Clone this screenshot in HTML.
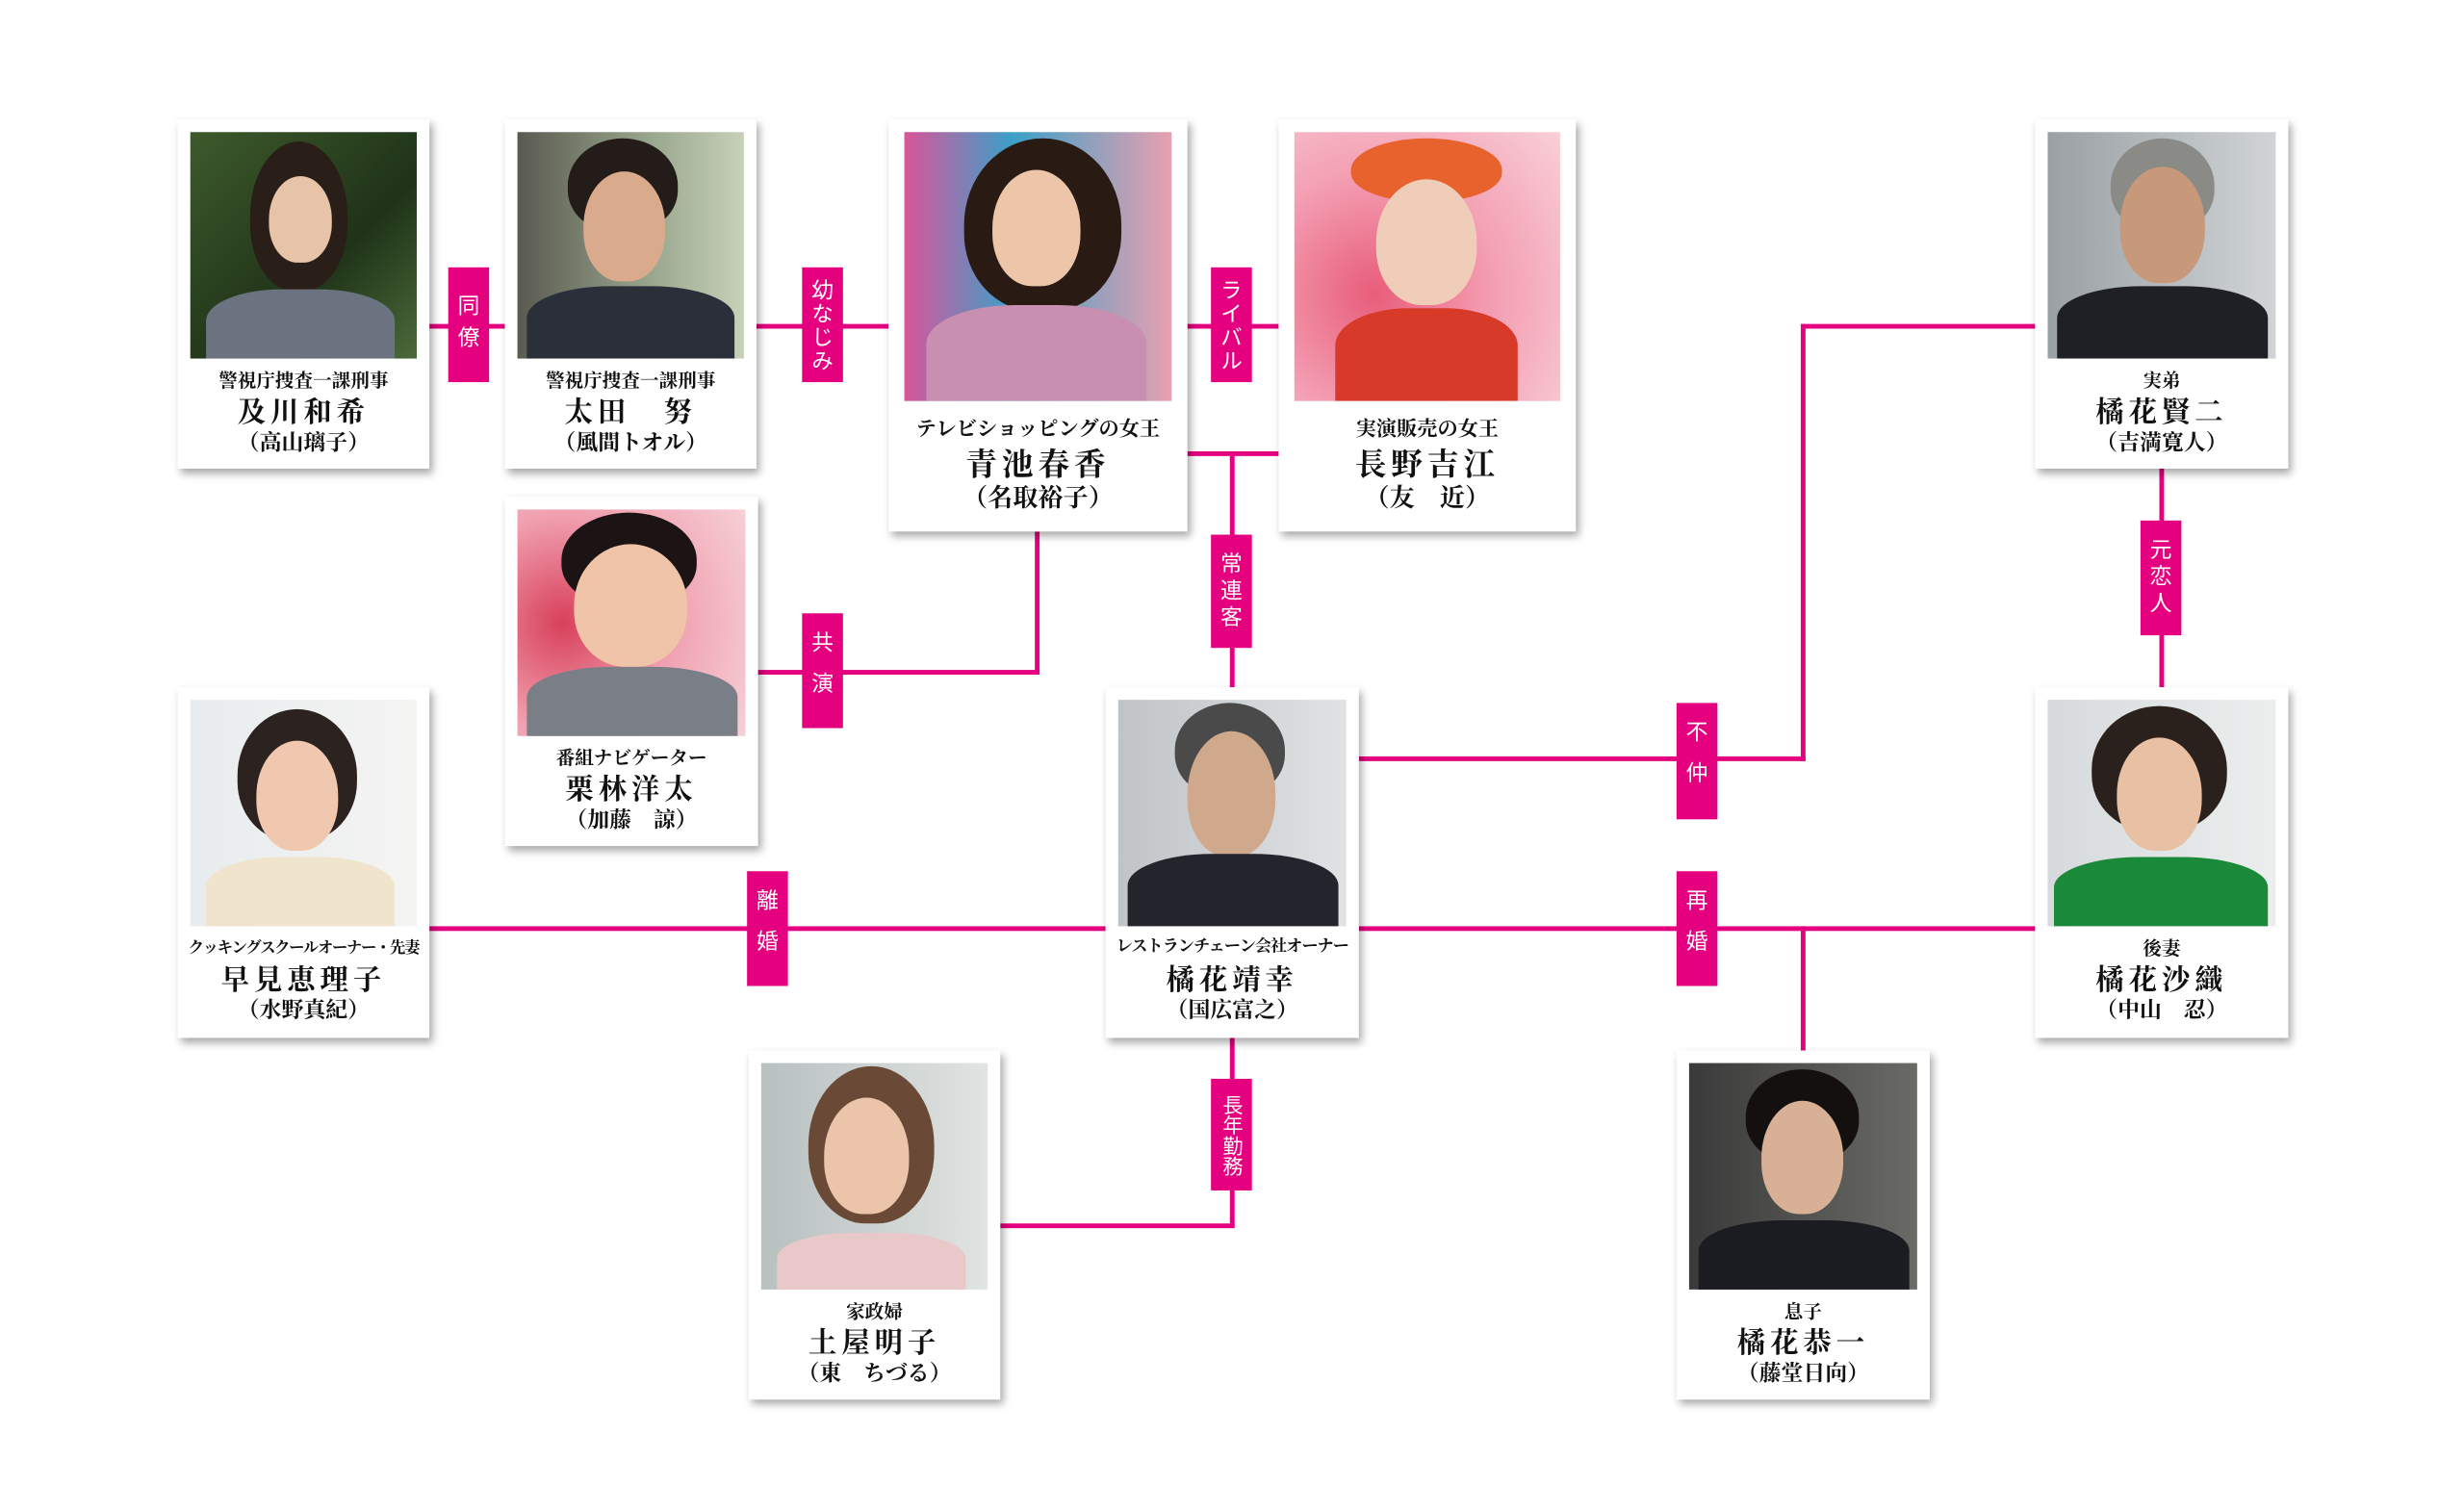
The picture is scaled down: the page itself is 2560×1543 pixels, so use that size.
<!DOCTYPE html>
<html><head><meta charset="utf-8"><style>
html,body{margin:0;padding:0;background:#fff;}
body{width:2560px;height:1543px;overflow:hidden;position:relative;}
#w{position:absolute;left:0;top:0;width:1560px;height:940px;transform:scale(1.634);transform-origin:0 0;}
.c{position:absolute;background:#fff;box-shadow:2px 3px 5px rgba(0,0,0,.35);font-family:"Liberation Serif","Noto Serif CJK SC",serif;text-align:center;color:#111;}
.p{position:absolute;left:8px;top:8px;right:8px;height:144px;overflow:hidden;}
.t{position:absolute;left:0;right:0;font-weight:bold;white-space:nowrap;}
.r{font-size:12px;top:157px;}
.n{font-size:18px;top:172px;letter-spacing:3px;}
.a{font-size:14px;top:195px;}
.big .p{left:10px;right:10px;height:171px;}
.big .r{top:186px;font-size:13px;}
.big .n{top:203px;font-size:20px;}
.big .a{top:228px;font-size:16px;}
.h{position:absolute;background:#e4007f;height:3px;}
.v{position:absolute;background:#e4007f;width:3px;}
.l{position:absolute;background:#e4007f;color:#fff;width:26px;font-family:"Liberation Sans","Noto Sans CJK JP",sans-serif;font-size:14px;writing-mode:vertical-rl;display:flex;align-items:center;justify-content:center;letter-spacing:6px;}
.head{position:absolute;border-radius:50% 50% 45% 45%;}
.body{position:absolute;border-radius:40% 40% 0 0;}
</style></head><body><div id="w">

<div class="h" style="left:273px;top:206px;width:48px"></div>
<div class="h" style="left:481px;top:206px;width:84px"></div>
<div class="h" style="left:755px;top:206px;width:58px"></div>
<div class="h" style="left:1146px;top:206px;width:148px"></div>
<div class="v" style="left:1145px;top:206px;height:278px"></div>
<div class="h" style="left:864px;top:481px;width:284px"></div>
<div class="h" style="left:755px;top:287px;width:58px"></div>
<div class="v" style="left:782px;top:287px;height:150px"></div>
<div class="v" style="left:658px;top:338px;height:91px"></div>
<div class="h" style="left:481px;top:426px;width:180px"></div>
<div class="v" style="left:1373px;top:298px;height:139px"></div>
<div class="h" style="left:273px;top:589px;width:430px"></div>
<div class="h" style="left:864px;top:589px;width:430px"></div>
<div class="v" style="left:1145px;top:589px;height:79px"></div>
<div class="v" style="left:782px;top:660px;height:120px"></div>
<div class="h" style="left:636px;top:778px;width:149px"></div>

<div class="l" style="left:285px;top:170px;height:73px">同僚</div>
<div class="l" style="left:510px;top:170px;height:73px;letter-spacing:1px">幼なじみ</div>
<div class="l" style="left:770px;top:170px;height:73px;letter-spacing:1px">ライバル</div>
<div class="l" style="left:770px;top:340px;height:72px;letter-spacing:3px">常連客</div>
<div class="l" style="left:510px;top:390px;height:73px;letter-spacing:12px">共演</div>
<div class="l" style="left:1361px;top:331px;height:73px;letter-spacing:3px">元恋人</div>
<div class="l" style="left:1066px;top:447px;height:74px;letter-spacing:12px">不仲</div>
<div class="l" style="left:475px;top:554px;height:73px;letter-spacing:12px">離婚</div>
<div class="l" style="left:1066px;top:554px;height:73px;letter-spacing:12px">再婚</div>
<div class="l" style="left:770px;top:686px;height:71px;letter-spacing:0px;font-size:13px">長年勤務</div>

<div class="c" style="left:113px;top:76px;width:160px;height:222px">
 <div class="p" style="background:linear-gradient(135deg,#3e5a2c,#1f3318 60%,#4b6a3a)">
  <div class="head" style="left:38px;top:6px;width:62px;height:95px;background:#2a1e18"></div>
  <div class="head" style="left:50px;top:28px;width:40px;height:55px;background:#e7c3a8"></div>
  <div class="body" style="left:10px;top:100px;width:120px;height:50px;background:#6b7280"></div>
 </div>
 <div class="t r">警視庁捜査一課刑事</div><div class="t n">及川和希</div><div class="t a">（高山璃子）</div></div>

<div class="c" style="left:321px;top:76px;width:160px;height:222px">
 <div class="p" style="background:linear-gradient(90deg,#5a5a50,#9aa890 60%,#c8d0b8)">
  <div class="head" style="left:32px;top:4px;width:70px;height:60px;background:#241c18"></div>
  <div class="head" style="left:42px;top:25px;width:52px;height:70px;background:#d9aa8c"></div>
  <div class="body" style="left:6px;top:98px;width:132px;height:50px;background:#2b2f3a"></div>
 </div>
 <div class="t r">警視庁捜査一課刑事</div><div class="t n">太田　努</div><div class="t a">（風間トオル）</div></div>

<div class="c big" style="left:565px;top:76px;width:190px;height:262px">
 <div class="p" style="background:linear-gradient(90deg,#d9559a,#3aa0c8 40%,#e8a0b0)">
  <div class="head" style="left:38px;top:4px;width:100px;height:110px;background:#2a1a14"></div>
  <div class="head" style="left:56px;top:24px;width:56px;height:74px;background:#edc6aa"></div>
  <div class="body" style="left:14px;top:110px;width:140px;height:61px;background:#c88fb0"></div>
 </div>
 <div class="t r">テレビショッピングの女王</div><div class="t n">青池春香</div><div class="t a">（名取裕子）</div></div>

<div class="c big" style="left:813px;top:76px;width:189px;height:262px">
 <div class="p" style="background:radial-gradient(circle at 30% 60%,#e85d7a,#f4a0b4 50%,#f8d0d8)">
  <div class="head" style="left:36px;top:4px;width:96px;height:40px;background:#e8622e"></div>
  <div class="head" style="left:52px;top:30px;width:64px;height:80px;background:#f0cdb8"></div>
  <div class="body" style="left:26px;top:112px;width:116px;height:59px;background:#d83a2a"></div>
 </div>
 <div class="t r">実演販売の女王</div><div class="t n">長野吉江</div><div class="t a">（友　近）</div></div>

<div class="c" style="left:1294px;top:76px;width:161px;height:222px">
 <div class="p" style="background:linear-gradient(90deg,#9aa0a4,#d0d4d6)">
  <div class="head" style="left:40px;top:4px;width:66px;height:60px;background:#8a8a86"></div>
  <div class="head" style="left:46px;top:22px;width:54px;height:74px;background:#c8987a"></div>
  <div class="body" style="left:6px;top:98px;width:134px;height:50px;background:#1e2026"></div>
 </div>
 <div class="t r">実弟</div><div class="t n">橘花賢二</div><div class="t a">（吉満寛人）</div></div>

<div class="c" style="left:321px;top:316px;width:161px;height:222px">
 <div class="p" style="background:radial-gradient(circle at 20% 50%,#d8405a,#f0a0b0 50%,#f6d0d6)">
  <div class="head" style="left:28px;top:2px;width:86px;height:60px;background:#1c1414"></div>
  <div class="head" style="left:36px;top:22px;width:72px;height:78px;background:#f0c4a8"></div>
  <div class="body" style="left:6px;top:100px;width:134px;height:48px;background:#7a7e86"></div>
 </div>
 <div class="t r">番組ナビゲーター</div><div class="t n">栗林洋太</div><div class="t a">（加藤　諒）</div></div>

<div class="c" style="left:113px;top:437px;width:160px;height:223px">
 <div class="p" style="background:linear-gradient(90deg,#e8ecee,#f4f4f2)">
  <div class="head" style="left:30px;top:6px;width:76px;height:84px;background:#2c2220"></div>
  <div class="head" style="left:42px;top:26px;width:52px;height:70px;background:#f0c8b0"></div>
  <div class="body" style="left:10px;top:100px;width:120px;height:48px;background:#f0e4cc"></div>
 </div>
 <div class="t r" style="font-size:10px;letter-spacing:-.8px">クッキングスクールオーナー・先妻</div><div class="t n">早見恵理子</div><div class="t a">（水野真紀）</div></div>

<div class="c" style="left:703px;top:437px;width:161px;height:223px">
 <div class="p" style="background:linear-gradient(90deg,#c0c4c6,#e0e2e4)">
  <div class="head" style="left:36px;top:2px;width:70px;height:60px;background:#4a4a4a"></div>
  <div class="head" style="left:44px;top:20px;width:56px;height:80px;background:#d0a88c"></div>
  <div class="body" style="left:6px;top:98px;width:134px;height:50px;background:#22252c"></div>
 </div>
 <div class="t r" style="font-size:10.5px;letter-spacing:-.6px">レストランチェーン会社オーナー</div><div class="t n">橘花靖幸</div><div class="t a">（国広富之）</div></div>

<div class="c" style="left:1294px;top:437px;width:161px;height:223px">
 <div class="p" style="background:linear-gradient(90deg,#d6dadc,#eceeee)">
  <div class="head" style="left:28px;top:4px;width:86px;height:80px;background:#2a201c"></div>
  <div class="head" style="left:44px;top:24px;width:54px;height:72px;background:#e8c0a4"></div>
  <div class="body" style="left:4px;top:100px;width:136px;height:48px;background:#1a8a3a"></div>
 </div>
 <div class="t r">後妻</div><div class="t n">橘花沙織</div><div class="t a">（中山　忍）</div></div>

<div class="c" style="left:476px;top:668px;width:160px;height:222px">
 <div class="p" style="background:linear-gradient(90deg,#b8c0c0,#e0e4e2)">
  <div class="head" style="left:30px;top:2px;width:80px;height:100px;background:#6a4a36"></div>
  <div class="head" style="left:40px;top:22px;width:54px;height:74px;background:#ecc4aa"></div>
  <div class="body" style="left:10px;top:108px;width:120px;height:40px;background:#e8c8c8"></div>
 </div>
 <div class="t r">家政婦</div><div class="t n">土屋明子</div><div class="t a">（東　ちづる）</div></div>

<div class="c" style="left:1066px;top:668px;width:161px;height:222px">
 <div class="p" style="background:linear-gradient(90deg,#3a3a3a,#6a6a66)">
  <div class="head" style="left:36px;top:4px;width:72px;height:60px;background:#141010"></div>
  <div class="head" style="left:46px;top:24px;width:52px;height:72px;background:#d8b096"></div>
  <div class="body" style="left:6px;top:100px;width:134px;height:48px;background:#1a1c22"></div>
 </div>
 <div class="t r">息子</div><div class="t n">橘花恭一</div><div class="t a">（藤堂日向）</div></div>

</div></body></html>
